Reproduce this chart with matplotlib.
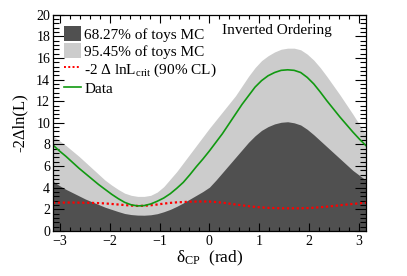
import numpy as np
import matplotlib
matplotlib.use("Agg")
import matplotlib.pyplot as plt
from matplotlib.ticker import MultipleLocator
from matplotlib.patches import Patch
from matplotlib.lines import Line2D

# delta_CP sample points in degrees (7.5 degree steps)
delta_deg = [-180, -172.5, -165, -157.5, -150, -142.5, -135, -127.5, -120, -112.5,
             -105, -97.5, -90, -82.5, -75, -67.5, -60, -52.5, -45, -37.5,
             -30, -22.5, -15, -7.5, 0, 7.5, 15, 22.5, 30, 37.5,
             45, 52.5, 60, 67.5, 75, 82.5, 90, 97.5, 105, 112.5,
             120, 127.5, 135, 142.5, 150, 157.5, 165, 172.5, 180]
band68 = [4.6, 4.2, 3.85, 3.55, 3.25, 2.95, 2.7, 2.45, 2.2, 2.0,
          1.8, 1.62, 1.52, 1.47, 1.46, 1.5, 1.6, 1.78, 2.0, 2.28,
          2.6, 2.95, 3.3, 3.65, 4.05, 4.7, 5.4, 6.1, 6.8, 7.5,
          8.2, 8.8, 9.3, 9.65, 9.9, 10.05, 10.1, 10.0, 9.8, 9.4,
          8.9, 8.35, 7.8, 7.25, 6.7, 6.15, 5.6, 5.15, 4.7]
band95 = [8.8, 8.35, 7.9, 7.4, 6.9, 6.35, 5.8, 5.25, 4.7, 4.25,
          3.85, 3.5, 3.3, 3.2, 3.2, 3.3, 3.6, 4.1, 4.8, 5.5,
          6.3, 7.1, 7.9, 8.7, 9.5, 10.25, 11.0, 11.75, 12.5, 13.4,
          14.3, 15.1, 15.75, 16.2, 16.55, 16.8, 16.9, 16.9, 16.75, 16.35,
          15.8, 15.1, 14.3, 13.45, 12.6, 11.7, 10.8, 9.85, 8.9]
crit90 = [2.62, 2.62, 2.63, 2.63, 2.62, 2.61, 2.6, 2.58, 2.55, 2.5,
          2.45, 2.4, 2.35, 2.32, 2.33, 2.38, 2.45, 2.53, 2.6, 2.65,
          2.68, 2.71, 2.72, 2.73, 2.72, 2.68, 2.62, 2.54, 2.45, 2.37,
          2.3, 2.23, 2.18, 2.14, 2.12, 2.1, 2.1, 2.1, 2.1, 2.12,
          2.15, 2.2, 2.25, 2.31, 2.38, 2.44, 2.5, 2.56, 2.62]
data = [7.95, 7.4, 6.9, 6.35, 5.8, 5.3, 4.8, 4.3, 3.85, 3.4,
        3.0, 2.65, 2.42, 2.32, 2.35, 2.5, 2.75, 3.05, 3.45, 3.95,
        4.5, 5.2, 5.95, 6.65, 7.4, 8.2, 9.0, 9.9, 10.8, 11.7,
        12.5, 13.3, 13.9, 14.35, 14.65, 14.85, 14.9, 14.85, 14.65, 14.2,
        13.6, 12.85, 12.05, 11.3, 10.55, 9.85, 9.15, 8.5, 7.9]

xtick_labels = ['\u22123', '\u22122', '\u22121', '0', '1', '2', '3']
legend_labels = ["68.27% of toys MC", "95.45% of toys MC",
                 r"-2 Δ lnL$_{\mathregular{crit}}$ (90% CL)", "Data"]

plt.rcParams['font.family'] = ['Liberation Serif', 'DejaVu Serif']
plt.rcParams['mathtext.fontset'] = 'custom'
plt.rcParams['mathtext.rm'] = 'Liberation Serif'
plt.rcParams['mathtext.it'] = 'Liberation Serif:italic'

x = np.deg2rad(delta_deg)

fig = plt.figure(figsize=(4.07, 2.76), dpi=100)
ax = fig.add_axes([0.130, 0.163, 0.769, 0.784])

c_dark = '#505050'
c_light = '#cccccc'
c_green = '#119911'
c_red = '#ff0000'
ax.fill_between(x, 0, band95, color=c_light, lw=0)
ax.fill_between(x, 0, band68, color=c_dark, lw=0)
ax.plot(x, crit90, color=c_red, lw=1.6, ls=(0, (1, 1.2)))
ax.plot(x, data, color=c_green, lw=1.2)

ax.set_xlim(-np.pi, np.pi)
ax.set_ylim(0, 20)
ax.set_xticks(range(-3, 4))
ax.set_xticklabels(xtick_labels)
ax.xaxis.set_minor_locator(MultipleLocator(0.2))
ax.yaxis.set_major_locator(MultipleLocator(2))
ax.yaxis.set_minor_locator(MultipleLocator(0.4))
ax.tick_params(which='both', direction='in', top=True, right=True, labelsize=10, width=0.8)
ax.tick_params(axis='x', which='major', length=6, pad=3)
ax.tick_params(axis='x', which='minor', length=3)
ax.tick_params(axis='y', which='major', length=8, pad=2)
ax.tick_params(axis='y', which='minor', length=4)
for s in ax.spines.values():
    s.set_linewidth(0.9)

ax.text(0.5, -0.128, r'δ$_{\mathregular{CP}}$  (rad)', transform=ax.transAxes,
        fontsize=12.5, ha='center', va='center')
ax.text(-0.105, 0.5, '-2Δln(L)', transform=ax.transAxes, fontsize=12,
        ha='center', va='center', rotation=90)

ax.text(0.716, 0.927, 'Inverted Ordering', transform=ax.transAxes, fontsize=11,
        ha='center', va='center')

handles = [Patch(facecolor=c_dark, edgecolor='none'),
           Patch(facecolor=c_light, edgecolor='none'),
           Line2D([], [], color=c_red, lw=1.4, ls=(0, (1, 1.2))),
           Line2D([], [], color=c_green, lw=1.2)]
leg = ax.legend(handles, legend_labels, loc='upper left', bbox_to_anchor=(0.0, 1.0),
                frameon=False, fontsize=11, handlelength=1.1, handleheight=1.1,
                handletextpad=0.2, labelspacing=0.12, borderaxespad=0.35)

fig.savefig('out.png', dpi=100)
